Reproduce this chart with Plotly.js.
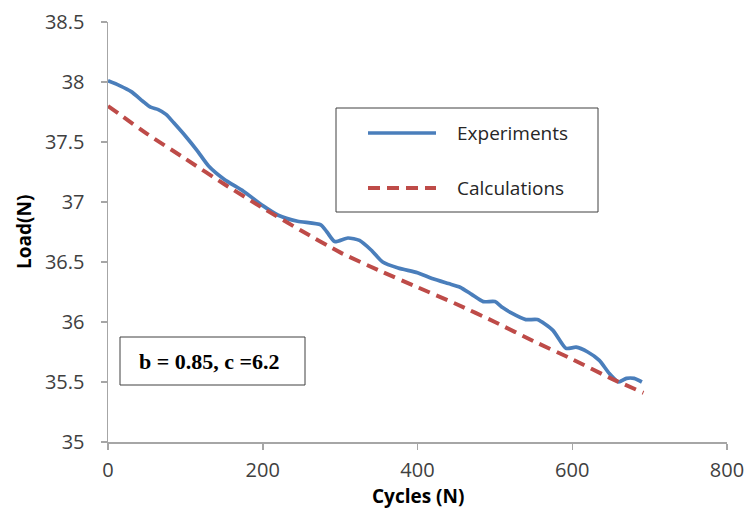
<!DOCTYPE html>
<html>
<head>
<meta charset="utf-8">
<script src="https://cdn.plot.ly/plotly-3.0.1.min.js"></script>
<style>html,body{margin:0;padding:0;background:#fff;}#chart{width:746px;height:508px;}</style>
</head>
<body>
<div id="chart"></div>
<script>
// Experiments series
var cycExp = [0,15,30,45,55,65,75,85,100,115,130,150,175,200,220,245,275,283,293,310,325,340,355,375,400,420,440,455,470,485,500,510,520,540,555,575,592,605,620,635,648,660,670,680,690];
var loadExp = [38.01,37.97,37.92,37.84,37.79,37.77,37.73,37.66,37.55,37.43,37.30,37.19,37.09,36.97,36.89,36.84,36.81,36.75,36.67,36.70,36.68,36.60,36.50,36.45,36.41,36.36,36.32,36.29,36.23,36.17,36.17,36.12,36.08,36.02,36.02,35.93,35.78,35.79,35.75,35.68,35.57,35.50,35.53,35.53,35.50];
// Calculations series
var cycCalc = [0,50,100,150,200,250,300,350,400,450,500,550,600,650,692];
var loadCalc = [37.80,37.57,37.36,37.15,36.95,36.76,36.58,36.43,36.29,36.15,36.00,35.84,35.69,35.53,35.41];
var seriesNames = ["Experiments","Calculations"];
var xTicks = [0,200,400,600,800];
var yTicks = [35,35.5,36,36.5,37,37.5,38,38.5];
var paramText = "b = 0.85, c =6.2";
var xTitle = "Cycles (N)";
var yTitle = "Load(N)";

var blue = "#4a7ebb", red = "#be4b48";
var font = "Open Sans, sans-serif";

var traces = [
  {x: cycExp, y: loadExp, name: seriesNames[0], mode: "lines", type: "scatter",
   line: {color: blue, width: 3.7, shape: "spline", smoothing: 0.6}, showlegend: false},
  {x: cycCalc, y: loadCalc, name: seriesNames[1], mode: "lines", type: "scatter",
   line: {color: red, width: 4, dash: "12px,7px", shape: "spline", smoothing: 0.6}, showlegend: false}
];

// helpers: pixel -> paper
var L = 108, R = 19, T = 22, B = 66, W = 746, H = 508;
var pw = W - L - R, ph = H - T - B;
function px(x){ return (x - L) / pw; }
function py(y){ return (H - B - y) / ph; }

var layout = {
  width: W, height: H,
  margin: {l: L, r: R, t: T, b: B, pad: 0},
  paper_bgcolor: "#fff", plot_bgcolor: "#fff",
  font: {family: font, color: "#404040", size: 19},
  xaxis: {
    range: [0, 800], tickvals: xTicks, ticktext: xTicks.map(String),
    showgrid: false, zeroline: false, showline: true, linecolor: "#a6a6a6", linewidth: 1.5,
    ticks: "outside", ticklen: 6, tickcolor: "#a6a6a6", tickwidth: 1.5,
    tickfont: {family: font, size: 20, color: "#404040"}, ticklabelstandoff: 3
  },
  yaxis: {
    range: [35, 38.5], tickvals: yTicks, ticktext: yTicks.map(String),
    showgrid: false, zeroline: false, showline: true, linecolor: "#a6a6a6", linewidth: 1.5,
    ticks: "outside", ticklen: 6, tickcolor: "#a6a6a6", tickwidth: 1.5,
    tickfont: {family: font, size: 20, color: "#404040"}, ticklabelstandoff: 12
  },
  showlegend: false,
  shapes: [
    // legend box
    {type: "rect", xref: "paper", yref: "paper", x0: px(336), x1: px(598), y0: py(212), y1: py(108),
     line: {color: "#404040", width: 1}, fillcolor: "#fff", layer: "above"},
    {type: "line", xref: "paper", yref: "paper", x0: px(368), x1: px(436), y0: py(133), y1: py(133),
     line: {color: blue, width: 3.7}, layer: "above"},
    {type: "line", xref: "paper", yref: "paper", x0: px(368), x1: px(436), y0: py(188), y1: py(188),
     line: {color: red, width: 4, dash: "12px,7px"}, layer: "above"},
    // parameter box
    {type: "rect", xref: "paper", yref: "paper", x0: px(120), x1: px(305), y0: py(385), y1: py(337),
     line: {color: "#404040", width: 1}, fillcolor: "#fff", layer: "above"}
  ],
  annotations: [
    {xref: "paper", yref: "paper", x: px(455), y: py(133), xanchor: "left", yanchor: "middle",
     text: seriesNames[0], showarrow: false, font: {family: font, size: 19, color: "#262626"}},
    {xref: "paper", yref: "paper", x: px(455), y: py(188), xanchor: "left", yanchor: "middle",
     text: seriesNames[1], showarrow: false, font: {family: font, size: 19, color: "#262626"}},
    {xref: "paper", yref: "paper", x: px(209), y: py(361), xanchor: "center", yanchor: "middle",
     text: "<b>" + paramText + "</b>", showarrow: false,
     font: {family: "Liberation Serif, Times New Roman, serif", size: 22, color: "#000"}},
    // axis titles
    {xref: "paper", yref: "paper", x: 0.5, y: py(496), xanchor: "center", yanchor: "middle",
     text: "<b>" + xTitle + "</b>", showarrow: false,
     font: {family: font, size: 19, color: "#000"}},
    {xref: "paper", yref: "paper", x: px(24), y: py(232), xanchor: "center", yanchor: "middle",
     text: "<b>" + yTitle + "</b>", showarrow: false, textangle: -90,
     font: {family: font, size: 19, color: "#000"}}
  ]
};

Plotly.newPlot("chart", traces, layout, {staticPlot: true, displayModeBar: false});
</script>
</body>
</html>
